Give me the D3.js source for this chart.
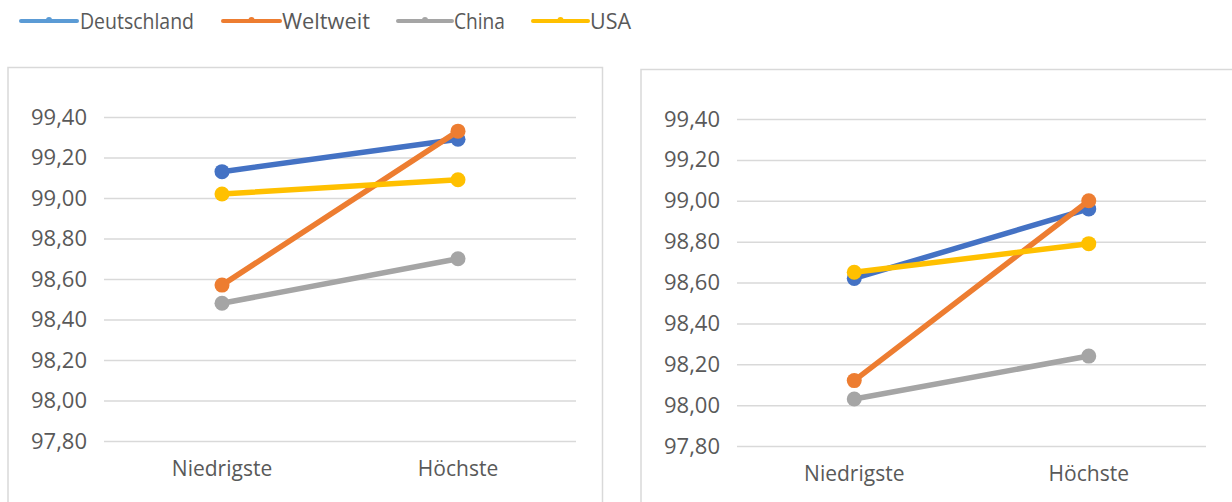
<!DOCTYPE html>
<html>
<head>
<meta charset="utf-8">
<script src="https://cdn.jsdelivr.net/npm/d3@7"></script>
<style>
  body { margin: 0; background: #fff; }
  svg { display: block; }
</style>
</head>
<body>
<div id="chart"></div>
<script>
const categories = ['Niedrigste', 'Höchste'];
const seriesNames = ['Deutschland', 'Weltweit', 'China', 'USA'];
const yTicks = [97.8, 98.0, 98.2, 98.4, 98.6, 98.8, 99.0, 99.2, 99.4];

// left chart
const deutschlandA = [99.13, 99.29];
const weltweitA = [98.57, 99.33];
const chinaA = [98.48, 98.70];
const usaA = [99.02, 99.09];

// right chart
const deutschlandB = [98.62, 98.96];
const weltweitB = [98.12, 99.00];
const chinaB = [98.03, 98.24];
const usaB = [98.65, 98.79];

// legend positions: [lineStart, lineEnd, textStart, textEnd]
const legendSpots = [[21, 77, 80, 194], [223, 280, 282, 370], [398, 452, 454, 505], [533, 588, 590, 631]];

const width = 1232;
const height = 502;
const lineColors = ['#4472C4', '#ED7D31', '#A5A5A5', '#FFC000'];
const legendColors = ['#5B9BD5', '#ED7D31', '#A5A5A5', '#FFC000'];
const textColor = '#595959';
const gridColor = '#D9D9D9';
const frameColor = '#D9D9D9';
const fontFamily = '"Open Sans", "Noto Sans", sans-serif';

const locale = d3.formatLocale({decimal: ',', thousands: '.', grouping: [3], currency: ['', '€']});
const fmt = locale.format('.2f');

const svg = d3.select('#chart')
  .append('svg')
  .attr('width', width)
  .attr('height', height);

// legend
const legend = svg.append('g').attr('class', 'legend');
seriesNames.forEach((name, i) => {
  const [x0, x1, t0, t1] = legendSpots[i];
  legend.append('line')
    .attr('x1', x0).attr('x2', x1)
    .attr('y1', 21).attr('y2', 21)
    .attr('stroke', legendColors[i])
    .attr('stroke-width', 4)
    .attr('stroke-linecap', 'round');
  legend.append('circle')
    .attr('cx', (x0 + x1) / 2)
    .attr('cy', 20)
    .attr('r', 3)
    .attr('fill', legendColors[i]);
  legend.append('text')
    .attr('x', t0)
    .attr('y', 29)
    .attr('textLength', t1 - t0)
    .attr('lengthAdjust', 'spacingAndGlyphs')
    .style('font-family', fontFamily)
    .style('font-size', '21px')
    .style('fill', textColor)
    .text(name);
});

function drawPanel(cfg, seriesValues) {
  const g = svg.append('g').attr('class', 'panel');

  g.append('rect')
    .attr('x', cfg.frame[0])
    .attr('y', cfg.frame[1])
    .attr('width', cfg.frame[2])
    .attr('height', cfg.frame[3])
    .attr('fill', 'none')
    .attr('stroke', frameColor)
    .attr('stroke-width', 1.5);

  const xScale = d3.scaleBand()
    .domain(categories)
    .range([cfg.left, cfg.right]);

  const yScale = d3.scaleLinear()
    .domain([97.8, 99.4])
    .range([cfg.bottom, cfg.top]);

  const yAxis = d3.axisLeft(yScale)
    .tickValues(yTicks)
    .tickSize(-(cfg.right - cfg.left))
    .tickPadding(17)
    .tickFormat(fmt);

  const ya = g.append('g')
    .attr('transform', `translate(${cfg.left}, 0)`)
    .call(yAxis);
  ya.select('.domain').remove();
  ya.selectAll('.tick line')
    .attr('stroke', gridColor)
    .attr('stroke-width', 1.5);
  ya.selectAll('.tick text')
    .style('font-family', fontFamily)
    .style('font-size', '22px')
    .style('fill', textColor);

  const xAxis = d3.axisBottom(xScale)
    .tickSize(0)
    .tickPadding(20);

  const xa = g.append('g')
    .attr('transform', `translate(0, ${cfg.bottom})`)
    .call(xAxis);
  xa.select('.domain').remove();
  xa.selectAll('.tick text')
    .style('font-family', fontFamily)
    .style('font-size', '21px')
    .style('fill', textColor);

  const line = d3.line()
    .x((d, i) => xScale(categories[i]) + xScale.bandwidth() / 2)
    .y(d => yScale(d));

  seriesValues.forEach((vals, s) => {
    g.append('path')
      .datum(vals)
      .attr('d', line)
      .attr('fill', 'none')
      .attr('stroke', lineColors[s])
      .attr('stroke-width', 5.5)
      .attr('stroke-linecap', 'round');

    g.selectAll(null)
      .data(vals)
      .join('circle')
      .attr('cx', (d, i) => xScale(categories[i]) + xScale.bandwidth() / 2)
      .attr('cy', d => yScale(d))
      .attr('r', 7.5)
      .attr('fill', lineColors[s]);
  });
}

drawPanel({frame: [8, 67.5, 594.5, 460], left: 104, right: 576, top: 117, bottom: 441},
  [deutschlandA, weltweitA, chinaA, usaA]);

drawPanel({frame: [641, 69.5, 620, 460], left: 737, right: 1206, top: 119, bottom: 446},
  [deutschlandB, weltweitB, chinaB, usaB]);
</script>
</body>
</html>
